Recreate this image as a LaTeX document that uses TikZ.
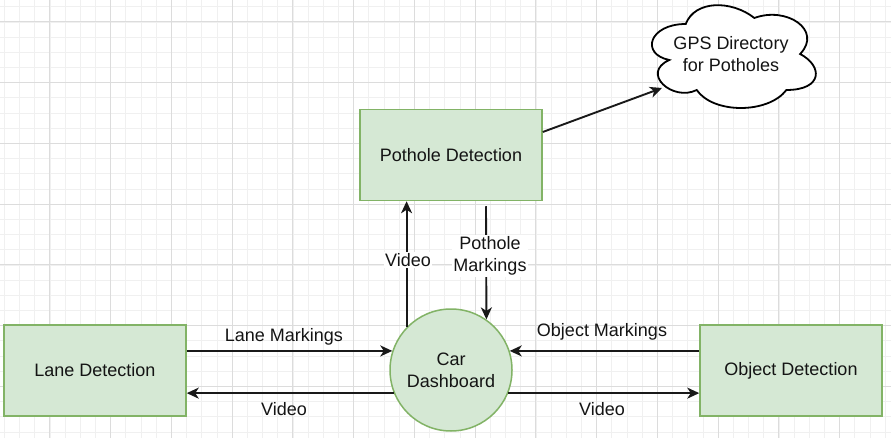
\documentclass[tikz,border=0pt]{standalone}
\usepackage{fontspec}
\setmainfont{Liberation Sans}
\usetikzlibrary{arrows.meta,calc}
\definecolor{boxfill}{HTML}{D5E8D4}
\definecolor{boxline}{HTML}{82B366}
\definecolor{txt}{HTML}{141414}
\definecolor{minorgrid}{HTML}{F0F0F0}
\definecolor{majorgrid}{HTML}{DCDCDC}
\begin{document}
\begin{tikzpicture}[x=1pt,y=-1pt,
  every node/.style={font=\fontsize{18}{22}\selectfont, text=txt},
  box/.style={draw=boxline, fill=boxfill, line width=1.5pt, minimum width=182pt, minimum height=91pt, inner sep=0pt},
  carnode/.style={circle, draw=boxline, fill=boxfill, line width=1.5pt, minimum size=122pt, inner sep=0pt, align=center},
  flow/.style={line width=1.9pt, draw=black!90, -{Stealth[length=12pt,width=11pt,inset=3.5pt]}},
  lbl/.style={inner sep=1pt, align=center},
  wlbl/.style={fill=white, inner sep=1.5pt, align=center},
  mgrid/.style={draw=minorgrid, line width=0.9pt},
  Mgrid/.style={draw=majorgrid, line width=1pt}
]
\fill[white] (0,0) rectangle (891,438);
\useasboundingbox (0,0) rectangle (891,438);
% grid
\foreach \i in {0,...,58} {
  \draw[mgrid] ({4.4+15.1875*\i},0) -- ++(0,438);
}
\foreach \i in {0,...,29} {
  \draw[mgrid] (0,{6.8+15.1875*\i}) -- ++(891,0);
}
\foreach \i in {0,...,14} {
  \draw[Mgrid] ({49.96+60.75*\i},0) -- ++(0,438);
}
\foreach \i in {0,...,7} {
  \draw[Mgrid] (0,{21.99+60.75*\i}) -- ++(891,0);
}
% nodes
\node[box] (pothole) at (451,155) {Pothole Detection};
\node[box] (lane) at (95,370.5) {Lane Detection};
\node[box] (object) at (791,370.5) {Object Detection};
\node[carnode] (car) at (451,370) {Car\\Dashboard};
% cloud
\begin{scope}[shift={(640,-6)}, x=183pt, y=-120pt]
\draw[line width=1.8pt, fill=white] (0.25,0.25) .. controls (0.05,0.25) and (0,0.5) .. (0.16,0.55)
  .. controls (0,0.66) and (0.18,0.9) .. (0.31,0.8)
  .. controls (0.4,1) and (0.7,1) .. (0.8,0.8)
  .. controls (1,0.8) and (1,0.6) .. (0.875,0.5)
  .. controls (1,0.3) and (0.8,0.1) .. (0.625,0.2)
  .. controls (0.5,0.05) and (0.3,0.05) .. (0.25,0.25) -- cycle;
\end{scope}
\node[lbl] (gps) at (731,54) {GPS Directory\\for Potholes};
\coordinate (gpsin) at (662,88);
% connectors
\draw[flow] ([yshift=23pt]pothole.east) -- (gpsin);
\draw[flow] (lane.east |- car.162) -- (car.162);
\draw[flow] (car.202) -- (car.202 -| lane.east);
\draw[flow] (object.west |- car.18) -- (car.18);
\draw[flow] (car.-22) -- (car.-22 -| object.west);
\draw[flow] (car.136) -- (car.136 |- pothole.south);
\draw[flow] ($(pothole.south)+(35,5)$) -- (car.55);
% labels
\node[lbl] (l1) at (284,337) {Lane Markings};
\node[lbl] (l2) at (284,409) {Video};
\node[lbl] (l3) at (602,332) {Object Markings};
\node[lbl] (l4) at (602,409) {Video};
\node[wlbl] (l5) at (408,260) {Video};
\node[wlbl] (l6) at (490,256) {Pothole\\Markings};
\end{tikzpicture}
\end{document}
